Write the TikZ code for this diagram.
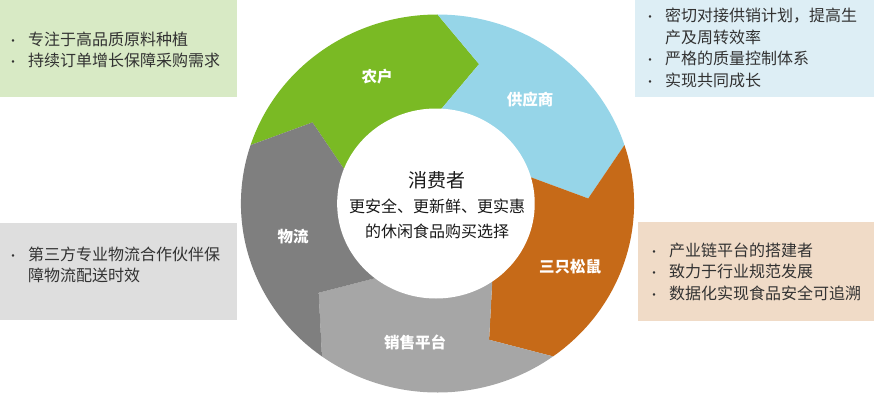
\documentclass[tikz,border=0pt]{standalone}
\usepackage{fontspec}
\setmainfont{Noto Sans CJK SC}
\usetikzlibrary{positioning}
\definecolor{col1}{RGB}{122,186,36}
\definecolor{col2}{RGB}{150,213,232}
\definecolor{col3}{RGB}{198,106,24}
\definecolor{col4}{RGB}{166,166,166}
\definecolor{col5}{RGB}{127,127,127}
\definecolor{box1}{RGB}{216,234,197}
\definecolor{box2}{RGB}{221,238,245}
\definecolor{box3}{RGB}{240,219,199}
\definecolor{box5}{RGB}{222,222,222}
\definecolor{txtcol}{RGB}{50,50,50}
\tikzstyle{seglabel}=[text=white, font=\bfseries\fontsize{15.5}{18}\selectfont]
\tikzstyle{infobox}=[minimum width=237pt, minimum height=97pt, inner sep=0pt]
\tikzstyle{info}=[anchor=west, align=left, inner sep=0pt, text=txtcol, font=\fontsize{16}{21.5}\selectfont]
\tikzstyle{hubtext}=[align=center, inner sep=0pt, text=black!90, font=\fontsize{16}{25}\selectfont]
\def\ro{189pt}
\def\rm{145pt}
\def\ri{90pt}
\newcommand{\ringseg}[2]{%
  \fill[#2] (#1:\ro) arc ({#1}:{#1-72}:\ro) -- ({#1-88}:\rm) -- ({#1-72}:\ri)
    arc ({#1-72}:{#1}:\ri) -- ({#1-16}:\rm) -- cycle;}
\newcommand{\bul}{{\fontsize{12}{12}\selectfont •}}
\begin{document}
\begin{tikzpicture}[x=1pt,y=1pt]
    \useasboundingbox (0,0) rectangle (874,400);
    % ring
    \begin{scope}[shift={(437.5,196.5)}, xscale=1.04]
        \ringseg{162}{col1}
        \ringseg{90}{col2}
        \ringseg{18}{col3}
        \ringseg{-54}{col4}
        \ringseg{-126}{col5}
        \fill[white] (-1.5,0) circle (95pt);
    \end{scope}
    \node [seglabel] (farmer) at (377,323) {农户};
    \node [seglabel] (supplier) at (530,300) {供应商};
    \node [seglabel] (squirrel) at (570,133) {三只松鼠};
    \node [seglabel] (sales) at (415,58) {销售平台};
    \node [seglabel] (logistics) at (293,163) {物流};
    \node [hubtext] (hub) at (437,195) {{\fontsize{19}{29}\selectfont 消费者}\\更安全、更新鲜、更实惠\\的休闲食品购买选择};
    % info boxes
    \node [infobox, fill=box1] (farmbox) at (118.5,351.5) {};
    \node [infobox, fill=box2, minimum width=239pt] (supbox) at (754.5,351.5) {};
    \node [infobox, fill=box5] (logbox) at (118.5,128.5) {};
    \node [infobox, fill=box3, minimum width=236pt, minimum height=99pt] (sqbox) at (756,128.5) {};
    \node [info] (farmtxt) at ([xshift=7pt,yshift=-3pt]farmbox.west) {\begin{tabular}{@{}l@{\hspace{9pt}}l@{}}
        \bul & 专注于高品质原料种植\\
        \bul & 持续订单增长保障采购需求
    \end{tabular}};
    \node [info] (suptxt) at ([xshift=9pt,yshift=-1pt]supbox.west) {\begin{tabular}{@{}l@{\hspace{9pt}}l@{}}
        \bul & 密切对接供销计划，提高生\\
             & 产及周转效率\\
        \bul & 严格的质量控制体系\\
        \bul & 实现共同成长
    \end{tabular}};
    \node [info] (logtxt) at ([xshift=7pt,yshift=5pt]logbox.west) {\begin{tabular}{@{}l@{\hspace{9pt}}l@{}}
        \bul & 第三方专业物流合作伙伴保\\
             & 障物流配送时效
    \end{tabular}};
    \node [info] (sqtxt) at ([xshift=10pt,yshift=-2pt]sqbox.west) {\begin{tabular}{@{}l@{\hspace{9pt}}l@{}}
        \bul & 产业链平台的搭建者\\
        \bul & 致力于行业规范发展\\
        \bul & 数据化实现食品安全可追溯
    \end{tabular}};
\end{tikzpicture}
\end{document}
